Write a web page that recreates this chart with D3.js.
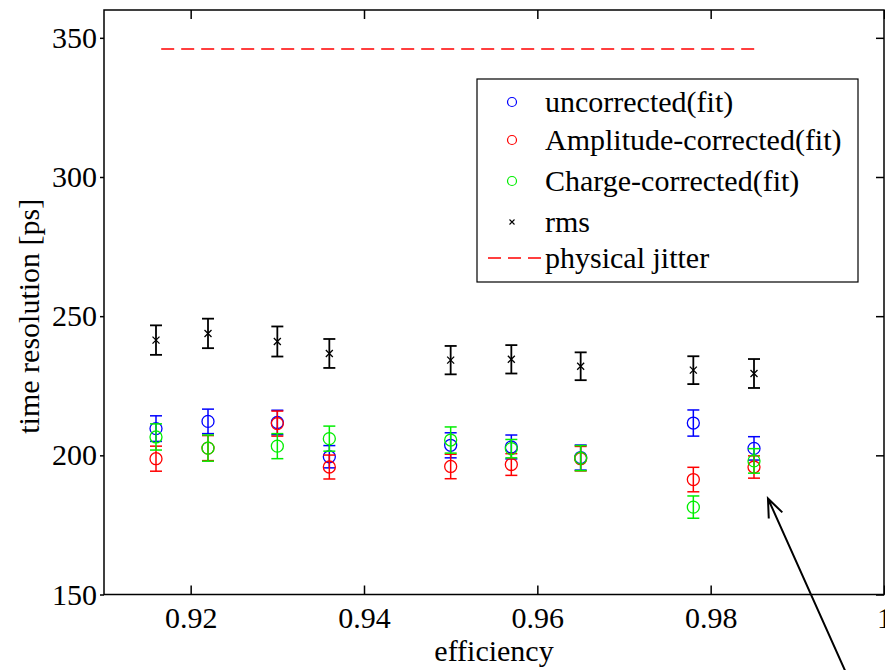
<!DOCTYPE html>
<html>
<head>
<meta charset="utf-8">
<script src="https://cdn.jsdelivr.net/npm/d3@7"></script>
<style>
  html, body { margin: 0; padding: 0; background: #fff; }
  svg { display: block; }
  text { font-family: "Liberation Serif", "Times New Roman", serif; fill: #000; }
</style>
</head>
<body>
<svg id="chart" width="885" height="670"></svg>
<script>
// Timing resolution versus detection efficiency
const efficiency   = [0.916, 0.922, 0.930, 0.936, 0.950, 0.957, 0.965, 0.978, 0.985];
const uncorrected  = [209.6, 212.2, 211.8, 199.5, 203.6, 203.0, 199.2, 211.6, 202.5];
const uncorrErr    = [4.6, 4.4, 4.4, 4.0, 4.5, 4.3, 4.5, 4.7, 4.2];
const amplitude    = [198.8, 202.6, 211.4, 195.8, 196.0, 196.7, 198.8, 191.3, 195.8];
const amplitudeErr = [4.5, 4.5, 4.5, 4.3, 4.4, 3.9, 4.4, 4.4, 4.0];
const charge       = [206.6, 202.6, 203.3, 206.0, 205.5, 202.4, 199.0, 181.4, 198.0];
const chargeErr    = [4.7, 4.7, 4.5, 4.5, 4.7, 3.3, 4.5, 4.0, 4.4];
const rms          = [241.4, 243.8, 240.9, 236.6, 234.2, 234.5, 232.0, 230.6, 229.4];
const rmsErr       = [5.3, 5.3, 5.4, 5.2, 5.1, 5.1, 5.0, 5.0, 5.2];
const jitterValue  = 346;
const jitterRange  = [0.9166, 0.9854];
const xTicks = [0.92, 0.94, 0.96, 0.98, 1];
const yTicks = [150, 200, 250, 300, 350];
const legendLabels = ["uncorrected(fit)", "Amplitude-corrected(fit)", "Charge-corrected(fit)", "rms", "physical jitter"];
// annotation arrow: tip and tail in data units
const arrowTip  = [0.98661, 184.5];
const arrowTail = [0.99550, 122.7];

const svg = d3.select("#chart");
const plot = { left: 104, right: 884, top: 10, bottom: 594.5 };

const x = d3.scaleLinear().domain([0.91, 1.0]).range([plot.left, plot.right]);
const y = d3.scaleLinear().domain([150, 360]).range([plot.bottom, plot.top]);

const FS = 30;

// box
svg.append("rect")
  .attr("x", plot.left).attr("y", plot.top)
  .attr("width", plot.right - plot.left).attr("height", plot.bottom - plot.top)
  .attr("fill", "#fff").attr("stroke", "#000").attr("stroke-width", 1.5);

// axes
const xAxisB = d3.axisBottom(x).tickValues(xTicks).tickSizeInner(-9).tickSizeOuter(0)
  .tickPadding(12).tickFormat(d => d === 1 ? "1" : d3.format(".2f")(d));
const gxb = svg.append("g").attr("transform", `translate(0,${plot.bottom})`).call(xAxisB);
gxb.select(".domain").remove();
gxb.selectAll("line").attr("stroke", "#000").attr("stroke-width", 1.5);
gxb.selectAll("text").attr("font-size", FS).attr("font-family", "Liberation Serif").attr("fill", "#000");

const xAxisT = d3.axisTop(x).tickValues(xTicks).tickSizeInner(-9).tickSizeOuter(0).tickFormat("");
const gxt = svg.append("g").attr("transform", `translate(0,${plot.top})`).call(xAxisT);
gxt.select(".domain").remove();
gxt.selectAll("line").attr("stroke", "#000").attr("stroke-width", 1.5);

const yAxisL = d3.axisLeft(y).tickValues(yTicks).tickSizeInner(4).tickSizeOuter(0).tickPadding(3);
const gyl = svg.append("g").attr("transform", `translate(${plot.left},0)`).call(yAxisL);
gyl.select(".domain").remove();
gyl.selectAll("line").attr("stroke", "#000").attr("stroke-width", 1.5);
gyl.selectAll("text").attr("font-size", FS).attr("font-family", "Liberation Serif").attr("fill", "#000");

const yAxisR = d3.axisRight(y).tickValues(yTicks).tickSizeInner(-8).tickSizeOuter(0).tickFormat("");
const gyr = svg.append("g").attr("transform", `translate(${plot.right},0)`).call(yAxisR);
gyr.select(".domain").remove();
gyr.selectAll("line").attr("stroke", "#000").attr("stroke-width", 1.5);

// axis titles
svg.append("text")
  .attr("x", (plot.left + plot.right) / 2).attr("y", 661)
  .attr("text-anchor", "middle").attr("font-size", FS)
  .text("efficiency");
svg.append("text")
  .attr("transform", `translate(39,${(plot.top + plot.bottom) / 2 + 14}) rotate(-90)`)
  .attr("text-anchor", "middle").attr("font-size", FS)
  .text("time resolution [ps]");

// physical jitter line
svg.append("line")
  .attr("x1", x(jitterRange[0])).attr("x2", x(jitterRange[1]))
  .attr("y1", y(jitterValue)).attr("y2", y(jitterValue))
  .attr("stroke", "#ff0000").attr("stroke-width", 1.5)
  .attr("stroke-dasharray", "13,7");

// error-bar series
const capHalf = 6;
function drawSeries(values, errs, color, marker, width) {
  const g = svg.append("g");
  const rows = efficiency.map((e, i) => ({ e, v: values[i], s: errs[i] }));
  const eb = g.selectAll("g.eb").data(rows).join("g").attr("class", "eb")
    .attr("stroke", color).attr("stroke-width", width).attr("fill", "none");
  eb.append("line")
    .attr("x1", d => x(d.e)).attr("x2", d => x(d.e))
    .attr("y1", d => y(d.v - d.s)).attr("y2", d => y(d.v + d.s));
  eb.append("line")
    .attr("x1", d => x(d.e) - capHalf).attr("x2", d => x(d.e) + capHalf)
    .attr("y1", d => y(d.v + d.s)).attr("y2", d => y(d.v + d.s));
  eb.append("line")
    .attr("x1", d => x(d.e) - capHalf).attr("x2", d => x(d.e) + capHalf)
    .attr("y1", d => y(d.v - d.s)).attr("y2", d => y(d.v - d.s));
  if (marker === "circle") {
    eb.append("circle").attr("cx", d => x(d.e)).attr("cy", d => y(d.v)).attr("r", 6)
      .attr("stroke-width", 1.3);
  } else {
    const a = 3.5;
    eb.append("path")
      .attr("d", d => {
        const cx = x(d.e), cy = y(d.v);
        return `M${cx - a},${cy - a}L${cx + a},${cy + a}M${cx - a},${cy + a}L${cx + a},${cy - a}`;
      }).attr("stroke-width", 1.3);
  }
}
drawSeries(uncorrected, uncorrErr, "#0000ff", "circle", 1.5);
drawSeries(amplitude, amplitudeErr, "#ff0000", "circle", 1.5);
drawSeries(charge, chargeErr, "#00ee00", "circle", 1.5);
drawSeries(rms, rmsErr, "#000000", "x", 1.8);

// legend
const lg = svg.append("g").attr("transform", "translate(477,79)");
lg.append("rect").attr("width", 381).attr("height", 203)
  .attr("fill", "#fff").attr("stroke", "#000").attr("stroke-width", 1.2);
const legendItems = [
  { label: legendLabels[0], color: "#0000ff", kind: "circle" },
  { label: legendLabels[1], color: "#ff0000", kind: "circle" },
  { label: legendLabels[2], color: "#00ee00", kind: "circle" },
  { label: legendLabels[3], color: "#000000", kind: "x" },
  { label: legendLabels[4], color: "#ff0000", kind: "dash" }
];
const rowY = [23, 61, 102, 143, 179];
legendItems.forEach((it, i) => {
  const cy = rowY[i];
  if (it.kind === "circle") {
    lg.append("circle").attr("cx", 35).attr("cy", cy).attr("r", 4.5)
      .attr("fill", "none").attr("stroke", it.color).attr("stroke-width", 1.2);
  } else if (it.kind === "x") {
    const a = 2.5;
    lg.append("path")
      .attr("d", `M${35 - a},${cy - a}L${35 + a},${cy + a}M${35 - a},${cy + a}L${35 + a},${cy - a}`)
      .attr("stroke", it.color).attr("stroke-width", 1.1);
  } else {
    lg.append("line").attr("x1", 11).attr("x2", 66).attr("y1", cy).attr("y2", cy)
      .attr("stroke", it.color).attr("stroke-width", 1.5).attr("stroke-dasharray", "13,7");
  }
  lg.append("text").attr("x", 68).attr("y", cy + 10).attr("font-size", FS).text(it.label);
});

// annotation arrow
const tip = [x(arrowTip[0]), y(arrowTip[1])];
const tail = [x(arrowTail[0]), y(arrowTail[1])];
const ang = Math.atan2(tail[1] - tip[1], tail[0] - tip[0]);
const headLen = 20, spread = 0.38;
const b1 = [tip[0] + headLen * Math.cos(ang - spread), tip[1] + headLen * Math.sin(ang - spread)];
const b2 = [tip[0] + headLen * Math.cos(ang + spread), tip[1] + headLen * Math.sin(ang + spread)];
svg.append("path")
  .attr("d", `M${tail[0]},${tail[1]}L${tip[0]},${tip[1]}M${b1[0]},${b1[1]}L${tip[0]},${tip[1]}L${b2[0]},${b2[1]}`)
  .attr("fill", "none").attr("stroke", "#000").attr("stroke-width", 2);
</script>
</body>
</html>
